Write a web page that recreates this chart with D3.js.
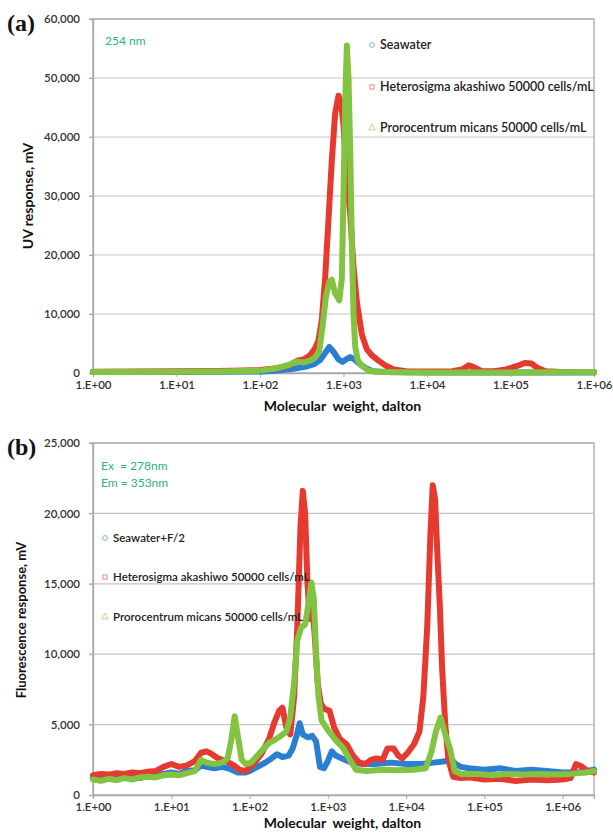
<!DOCTYPE html>
<html>
<head>
<meta charset="utf-8">
<script src="https://cdn.jsdelivr.net/npm/d3@7"></script>
<style>
  body { margin: 0; background: #fff; }
  svg { display: block; font-family: Lato, "Open Sans", sans-serif; }
</style>
</head>
<body>
<div id="chart"></div>
<script>
// ---- data: [log10 molecular weight, response mV] ----
const seriesNames = ["Seawater", "Heterosigma akashiwo 50000 cells/mL", "Prorocentrum micans 50000 cells/mL"];
const seriesNamesB = ["Seawater+F/2", "Heterosigma akashiwo 50000 cells/mL", "Prorocentrum micans 50000 cells/mL"];
const seriesColors = ["#2b7fd2", "#e63a31", "#82c341"];

const uvSeawater = [[0,150],[0.5,150],[1,180],[1.5,200],[2,250],[2.2,400],[2.4,700],[2.55,1100],[2.65,1500],[2.72,2200],[2.78,3400],[2.83,4400],[2.88,3600],[2.94,2300],[2.99,1900],[3.04,2400],[3.08,2700],[3.13,2300],[3.2,1500],[3.27,800],[3.35,300],[3.5,150],[4,100],[5,100],[6,100]];
const uvHetero = [[0,200],[0.5,250],[1,300],[1.5,350],[2,500],[2.2,800],[2.35,1300],[2.45,2100],[2.52,2300],[2.6,3000],[2.66,4200],[2.7,5500],[2.74,9000],[2.78,16000],[2.82,26000],[2.86,36000],[2.9,44000],[2.94,47000],[2.97,46000],[3.0,42000],[3.04,33000],[3.08,27000],[3.12,18000],[3.16,12000],[3.22,6500],[3.28,4000],[3.34,3000],[3.42,2100],[3.5,1300],[3.6,600],[3.75,300],[4.0,250],[4.3,300],[4.42,600],[4.5,1300],[4.56,1000],[4.65,350],[4.8,300],[4.95,600],[5.08,1200],[5.17,1700],[5.25,1600],[5.32,900],[5.42,300],[5.6,150],[6,150]];
const uvProro = [[0,150],[0.5,150],[1,200],[1.5,250],[2,400],[2.2,800],[2.35,1400],[2.44,1900],[2.52,1800],[2.6,2100],[2.66,2600],[2.71,3800],[2.75,8000],[2.79,13000],[2.83,15500],[2.86,15800],[2.9,13500],[2.95,12300],[2.98,16000],[3.0,30000],[3.02,46000],[3.04,55500],[3.06,50000],[3.08,38000],[3.1,22000],[3.12,10000],[3.14,4500],[3.17,2200],[3.22,1200],[3.3,400],[3.45,150],[4,100],[5,100],[6,150]];

const flSeawater = [[0,1200],[0.1,1300],[0.2,1150],[0.3,1300],[0.4,1250],[0.5,1350],[0.6,1200],[0.7,1400],[0.8,1350],[0.9,1500],[1.0,1600],[1.1,1500],[1.2,1700],[1.3,1750],[1.38,2100],[1.45,2000],[1.55,1900],[1.65,2000],[1.75,1850],[1.85,1600],[1.95,1600],[2.0,1700],[2.1,2000],[2.2,2300],[2.28,2600],[2.35,2900],[2.42,2700],[2.5,2800],[2.55,3300],[2.6,4200],[2.64,5100],[2.68,4300],[2.74,4100],[2.8,4200],[2.85,3800],[2.9,2000],[2.95,1900],[3.0,2400],[3.05,3100],[3.1,2800],[3.18,2600],[3.3,2300],[3.45,2200],[3.6,2200],[3.8,2300],[4.0,2200],[4.2,2200],[4.35,2300],[4.5,2400],[4.57,2600],[4.63,2200],[4.7,2000],[4.8,1900],[5.0,1800],[5.2,1900],[5.4,1700],[5.6,1800],[5.8,1700],[6.0,1600],[6.2,1600],[6.4,1800]];
const flHetero = [[0,1400],[0.1,1500],[0.2,1450],[0.3,1550],[0.4,1500],[0.5,1600],[0.6,1550],[0.7,1650],[0.8,1700],[0.9,2000],[1.0,2200],[1.1,2000],[1.2,2100],[1.3,2400],[1.38,3000],[1.45,3100],[1.52,2900],[1.6,2600],[1.7,2400],[1.8,2100],[1.87,1800],[1.95,1700],[2.05,2200],[2.15,2900],[2.25,4000],[2.32,5200],[2.38,6000],[2.42,6200],[2.47,4800],[2.52,4300],[2.57,7000],[2.61,12000],[2.65,19000],[2.68,21600],[2.71,20000],[2.74,15000],[2.77,12500],[2.8,13500],[2.83,11500],[2.87,8000],[2.91,6500],[2.96,6100],[3.02,6000],[3.08,4800],[3.15,4000],[3.24,3600],[3.32,2800],[3.4,2300],[3.48,2200],[3.55,2500],[3.62,2600],[3.7,2500],[3.76,3300],[3.84,3300],[3.9,2800],[3.95,2600],[4.02,3000],[4.1,3600],[4.17,4500],[4.22,7000],[4.27,12000],[4.31,18500],[4.34,22000],[4.37,21000],[4.4,17000],[4.43,13500],[4.46,9000],[4.5,5000],[4.54,2500],[4.6,1300],[4.7,1200],[4.8,1250],[5.0,1100],[5.2,1150],[5.4,1000],[5.6,1100],[5.8,1050],[6.0,1100],[6.1,1200],[6.17,2200],[6.25,2000],[6.32,1700],[6.4,1600]];
const flProro = [[0,1100],[0.1,1000],[0.2,1150],[0.3,1050],[0.4,1200],[0.5,1100],[0.6,1250],[0.7,1300],[0.8,1250],[0.9,1400],[1.0,1450],[1.1,1400],[1.2,1550],[1.3,1700],[1.38,2500],[1.45,2300],[1.55,2200],[1.65,2300],[1.72,2600],[1.77,4000],[1.81,5600],[1.85,4200],[1.9,2500],[1.95,2200],[2.02,2300],[2.1,2800],[2.18,3300],[2.25,3700],[2.32,3900],[2.4,4200],[2.47,4500],[2.52,5500],[2.57,8000],[2.61,11000],[2.66,11900],[2.71,12100],[2.75,13500],[2.79,15100],[2.82,14000],[2.85,10000],[2.88,7000],[2.92,5300],[3.0,4600],[3.1,3900],[3.2,3300],[3.28,2500],[3.36,1800],[3.5,1700],[3.7,1800],[3.9,1750],[4.1,1800],[4.25,1900],[4.32,3000],[4.38,4500],[4.44,5500],[4.5,4300],[4.56,3300],[4.62,1700],[4.7,1500],[4.9,1500],[5.1,1400],[5.3,1500],[5.5,1450],[5.7,1500],[5.9,1450],[6.1,1500],[6.3,1600],[6.4,1700]];

const xTicks = [1, 1e1, 1e2, 1e3, 1e4, 1e5, 1e6];
const uvTicks = [0, 10000, 20000, 30000, 40000, 50000, 60000];
const flTicks = [0, 5000, 10000, 15000, 20000, 25000];

const width = 613, height = 834;
const svg = d3.select("#chart").append("svg")
    .attr("width", width)
    .attr("height", height);

function drawPanel(p) {
    const x = d3.scaleLog().domain(p.xDomain).range([p.left, p.right]);
    const y = d3.scaleLinear().domain(p.yDomain).range([p.bottom, p.top]);
    const g = svg.append("g");

    // gridlines
    g.append("g")
        .selectAll("line")
        .data(p.yTicks.slice(1))
        .join("line")
        .attr("x1", p.left - 4).attr("x2", p.right)
        .attr("y1", d => y(d)).attr("y2", d => y(d))
        .attr("stroke", "#c4c4c4").attr("stroke-width", 1.2);

    // plot frame
    g.append("rect")
        .attr("x", p.left).attr("y", p.top)
        .attr("width", p.right - p.left).attr("height", p.bottom - p.top)
        .attr("fill", "none").attr("stroke", "#a8a8a8").attr("stroke-width", 1.3);

    // axes
    const yAxis = d3.axisLeft(y).tickValues(p.yTicks).tickFormat(d3.format(",")).tickSize(4).tickPadding(9);
    const xAxis = d3.axisBottom(x).tickValues(xTicks)
        .tickFormat(d => "1.E+" + String(Math.round(Math.log10(d))).padStart(2, "0"))
        .tickSize(4).tickPadding(4);

    const ya = g.append("g").attr("transform", `translate(${p.left},0)`).call(yAxis);
    const xa = g.append("g").attr("transform", `translate(0,${p.bottom})`).call(xAxis);
    [ya, xa].forEach(a => {
        a.select(".domain").attr("stroke", "#a8a8a8").attr("stroke-width", 1.3);
        a.selectAll(".tick line").attr("stroke", "#a8a8a8");
        a.selectAll("text").attr("fill", "#333").attr("font-size", 11.5).attr("font-weight", 600)
            .attr("font-family", "Lato, sans-serif");
    });

    // series lines
    const line = d3.line()
        .x(d => x(Math.pow(10, d[0])))
        .y(d => y(d[1]));

    p.series.forEach((s, i) => {
        g.append("path")
            .datum(s)
            .attr("fill", "none")
            .attr("stroke", seriesColors[i])
            .attr("stroke-width", 6)
            .attr("stroke-linejoin", "round")
            .attr("stroke-linecap", "round")
            .attr("d", line);
    });

    // legend
    const sym = [d3.symbolCircle, d3.symbolSquare, d3.symbolTriangle];
    const lg = g.append("g");
    p.names.forEach((name, i) => {
        const ly = p.legendY[i];
        lg.append("path")
            .attr("transform", `translate(${p.legendX},${ly})`)
            .attr("d", d3.symbol(sym[i], 18)())
            .attr("fill", "none")
            .attr("stroke", seriesColors[i])
            .attr("stroke-opacity", 0.6)
            .attr("stroke-width", 1);
        lg.append("text")
            .attr("x", p.legendX + 8).attr("y", ly + 4)
            .attr("font-size", p.legendSize).attr("font-weight", 600)
            .attr("fill", "#222")
            .text(name);
    });

    // annotation in green
    p.note.forEach((t, i) => {
        g.append("text")
            .attr("x", p.noteX).attr("y", p.noteY + i * 17)
            .attr("font-size", 12).attr("fill", "#2fb07c")
            .style("white-space", "pre")
            .text(t);
    });

    // panel letter
    g.append("text")
        .attr("x", 7).attr("y", p.top + 12)
        .attr("font-family", "'Liberation Serif', serif")
        .attr("font-weight", "bold").attr("font-size", 24)
        .attr("fill", "#111")
        .text(p.letter);

    // axis titles
    g.append("text")
        .attr("x", (p.left + p.right) / 2 - 1).attr("y", p.bottom + p.xTitleDy)
        .attr("text-anchor", "middle")
        .attr("font-size", 14).attr("font-weight", "bold").attr("fill", "#111")
        .style("white-space", "pre")
        .text("Molecular  weight, dalton");

    g.append("text")
        .attr("transform", `translate(${p.yTitleX},${p.yTitleY}) rotate(-90)`)
        .attr("text-anchor", "middle")
        .attr("font-size", p.yTitleSize).attr("font-weight", "bold").attr("fill", "#111")
        .text(p.yTitle);
}

drawPanel({
    letter: "(a)",
    left: 93, right: 594, top: 19, bottom: 373,
    xDomain: [1, 1e6], yDomain: [0, 60000], yTicks: uvTicks,
    series: [uvSeawater, uvHetero, uvProro],
    names: seriesNames, legendX: 372, legendY: [45, 87, 128], legendSize: 12.5,
    note: ["254 nm"], noteX: 105, noteY: 45,
    xTitleDy: 38, yTitle: "UV response, mV", yTitleX: 33, yTitleY: 196, yTitleSize: 14
});

drawPanel({
    letter: "(b)",
    left: 93, right: 594, top: 443, bottom: 795,
    xDomain: [1, Math.pow(10, 6.4)], yDomain: [0, 25000], yTicks: flTicks,
    series: [flSeawater, flHetero, flProro],
    names: seriesNamesB, legendX: 105, legendY: [538, 577, 617], legendSize: 11.5,
    note: ["Ex  = 278nm", "Em = 353nm"], noteX: 101, noteY: 470,
    xTitleDy: 33, yTitle: "Fluorescence response, mV", yTitleX: 26, yTitleY: 620, yTitleSize: 13
});
</script>
</body>
</html>
